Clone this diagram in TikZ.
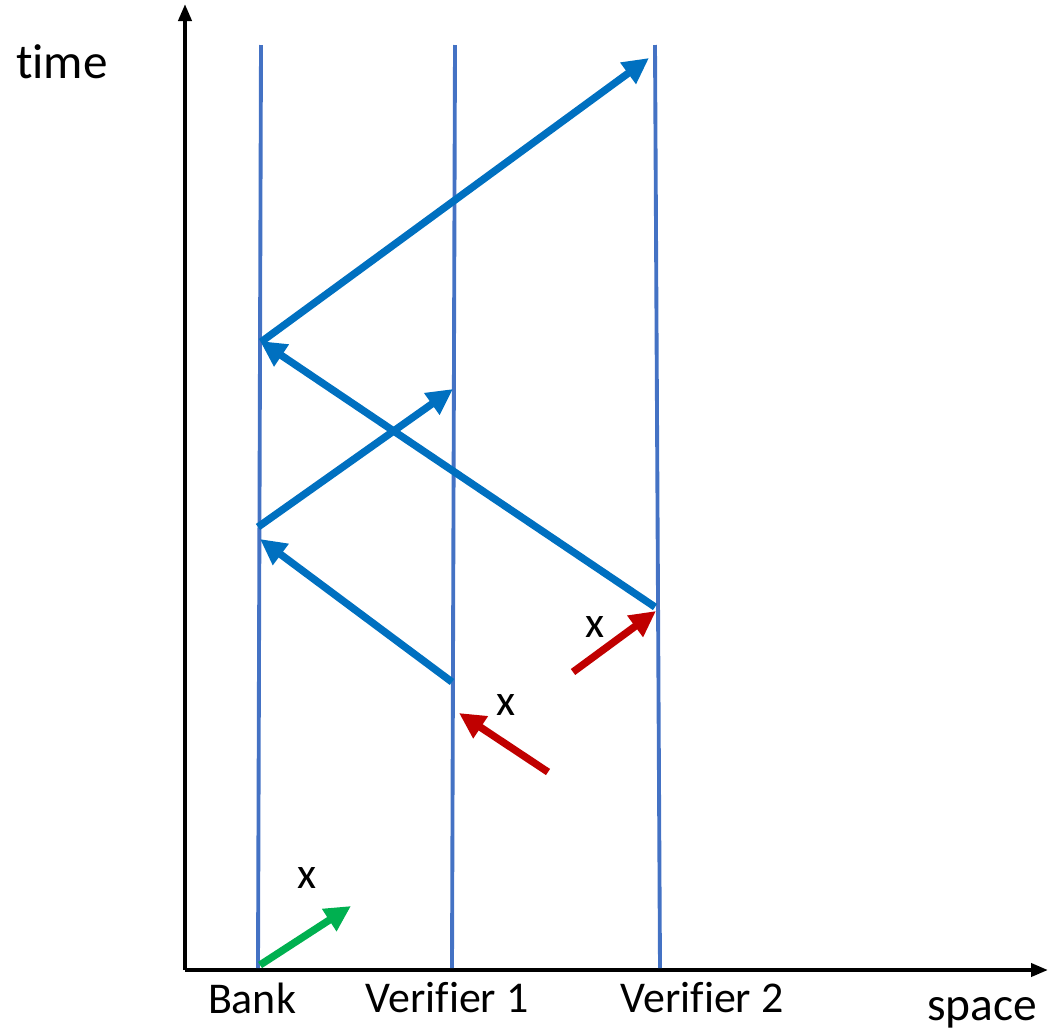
\documentclass[tikz,border=0pt]{standalone}
\usepackage{fontspec}
\setmainfont[Ligatures=NoCommon]{Carlito}
\usetikzlibrary{arrows.meta}
\definecolor{lineblue}{RGB}{68,114,196}
\definecolor{msgblue}{RGB}{0,112,192}
\definecolor{msgred}{RGB}{192,0,0}
\definecolor{msggreen}{RGB}{0,176,80}
\tikzset{
  axis/.style={line width=1.1pt,-{Triangle[length=0.17cm,width=0.13cm]}},
  worldline/.style={line width=1.1pt,color=lineblue},
  msg/.style={line width=2.1pt,-{Triangle[length=0.26cm,width=0.25cm]}},
  lbl/.style={font=\fontsize{12.5}{14}\selectfont,inner sep=0pt}
}

\begin{document}
\begin{tikzpicture}
		\useasboundingbox (0,0) rectangle (10.59,10.32);
		% axes
		\coordinate (O) at (1.85,0.62);
		\coordinate (T) at (1.85,10.28);
		\coordinate (S) at (10.48,0.62);
		\draw[axis] (O) -- (T);
		\draw[axis] (O) -- (S);
		\node[lbl,font=\fontsize{14}{16}\selectfont] (time) at (0.62,9.70) {time};
		\node[lbl,font=\fontsize{13.5}{16}\selectfont] (space) at (9.82,0.19) {space};
		% world lines
		\coordinate (b1) at (2.61,9.87);  \coordinate (b0) at (2.58,0.64);
		\coordinate (v1) at (4.55,9.87);  \coordinate (v0) at (4.52,0.64);
		\coordinate (w1) at (6.55,9.87);  \coordinate (w0) at (6.60,0.64);
		\draw[worldline] (b0) -- (b1);
		\draw[worldline] (v0) -- (v1);
		\draw[worldline] (w0) -- (w1);
		\node[lbl] (bank) at (2.52,0.34) {Bank};
		\node[lbl] (ver1) at (4.47,0.34) {Verifier 1};
		\node[lbl] (ver2) at (7.02,0.34) {Verifier 2};
		% messages
		\coordinate (m1a) at (4.52,3.50);  \coordinate (m1b) at (2.60,4.93);
		\coordinate (m2a) at (2.58,5.05);  \coordinate (m2b) at (4.53,6.43);
		\coordinate (m3a) at (6.55,4.25);  \coordinate (m3b) at (2.60,6.91);
		\coordinate (m4a) at (2.61,6.90);  \coordinate (m4b) at (6.49,9.74);
		\draw[msg,color=msgblue] (m1a) -- (m1b);
		\draw[msg,color=msgblue] (m2a) -- (m2b);
		\draw[msg,color=msgblue] (m3a) -- (m3b);
		\draw[msg,color=msgblue] (m4a) -- (m4b);
		% inputs x
		\coordinate (g0) at (2.60,0.67);  \coordinate (g1) at (3.51,1.26);
		\coordinate (r0) at (5.73,3.60);  \coordinate (r1) at (6.56,4.21);
		\coordinate (q0) at (5.48,2.60);  \coordinate (q1) at (4.59,3.19);
		\draw[msg,color=msggreen] (g0) -- (g1);
		\draw[msg,color=msgred] (r0) -- (r1);
		\draw[msg,color=msgred] (q0) -- (q1);
		\node[lbl] (xg) at (3.07,1.54) {x};
		\node[lbl] (xr) at (5.95,4.05) {x};
		\node[lbl] (xq) at (5.06,3.27) {x};
\end{tikzpicture}
\end{document}
